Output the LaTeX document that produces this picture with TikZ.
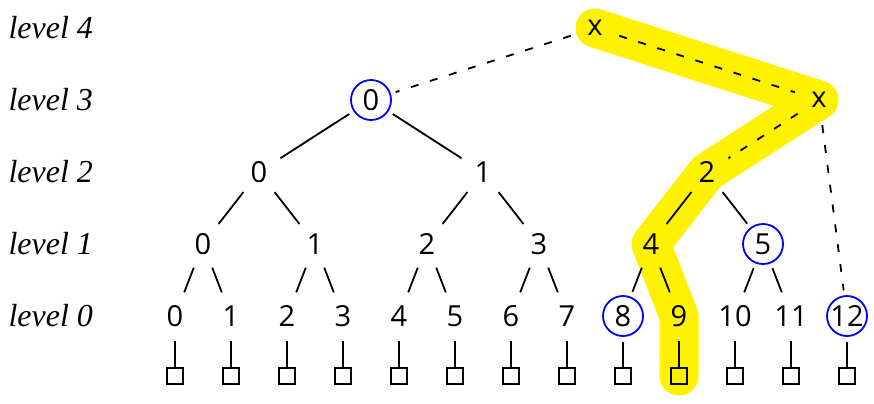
\documentclass[tikz,border=0pt]{standalone}
\usepackage{fontspec}
\setmainfont{Open Sans}
\newfontfamily\lvlfont{Liberation Serif}
\usetikzlibrary{backgrounds}

\tikzset{
  tnode/.style={circle, minimum size=20pt, inner sep=0pt, font=\fontsize{14.5}{16}\selectfont},
  marked/.style={tnode, draw=blue, line width=0.9pt},
  leafbox/.style={draw, rectangle, minimum size=8pt, inner sep=0pt, line width=1pt},
  edge/.style={line width=0.9pt, shorten <=2.5pt, shorten >=2.5pt},
  dedge/.style={edge, dash pattern=on 4pt off 6pt},
  lvl/.style={anchor=west, inner sep=0pt, font=\lvlfont\itshape\fontsize{16}{18}\selectfont},
  hilite/.style={yellow, line width=19.5pt, line cap=round, line join=round},
}

\begin{document}
\begin{tikzpicture}[x=28pt, y=-36pt]
    \useasboundingbox (-3.125,-0.389) rectangle (12.482,5.222);

    % Nhãn các mức
    \foreach \r/\lv in {0/4, 1/3, 2/2, 3/1, 4/0}
        \node[lvl] (lab\lv) at (-2.98,\r) {level \lv};

    % Mức 0 và các ô lá
    \foreach \i/\s in {0/tnode, 1/tnode, 2/tnode, 3/tnode, 4/tnode, 5/tnode, 6/tnode,
                       7/tnode, 8/marked, 9/tnode, 10/tnode, 11/tnode, 12/marked} {
        \node[\s] (a\i) at (\i,4) {\i};
        \node[leafbox] (s\i) at (\i,4.833) {};
        \draw[line width=0.9pt, shorten <=2.5pt] (a\i) -- (s\i);
    }

    % Mức 1
    \foreach \j/\s in {0/tnode, 1/tnode, 2/tnode, 3/tnode, 4/tnode, 5/marked} {
        \node[\s] (b\j) at (2*\j+0.5,3) {\j};
        \pgfmathtruncatemacro\ka{2*\j}
        \pgfmathtruncatemacro\kb{2*\j+1}
        \draw[edge] (b\j) -- (a\ka);
        \draw[edge] (b\j) -- (a\kb);
    }

    % Mức 2
    \foreach \j in {0,1,2} {
        \node[tnode] (c\j) at (4*\j+1.5,2) {\j};
        \pgfmathtruncatemacro\ka{2*\j}
        \pgfmathtruncatemacro\kb{2*\j+1}
        \draw[edge] (c\j) -- (b\ka);
        \draw[edge] (c\j) -- (b\kb);
    }

    % Mức 3 và 4
    \node[marked] (d0) at (3.5,1) {0};
    \node[tnode] (d1) at (11.5,1) {x};
    \node[tnode] (e) at (7.5,0) {x};

    \draw[edge] (d0) -- (c0);
    \draw[edge] (d0) -- (c1);
    \draw[dedge] (e) -- (d0);
    \draw[dedge] (e) -- (d1);
    \draw[dedge] (d1) -- (c2);
    \draw[dedge] (d1) -- (a12);

    % Đường tô vàng
    \begin{scope}[on background layer]
        \draw[hilite] (e.center) -- (d1.center) -- (c2.center) -- (b4.center)
            -- (a9.center) -- (s9.center);
    \end{scope}
\end{tikzpicture}
\end{document}
